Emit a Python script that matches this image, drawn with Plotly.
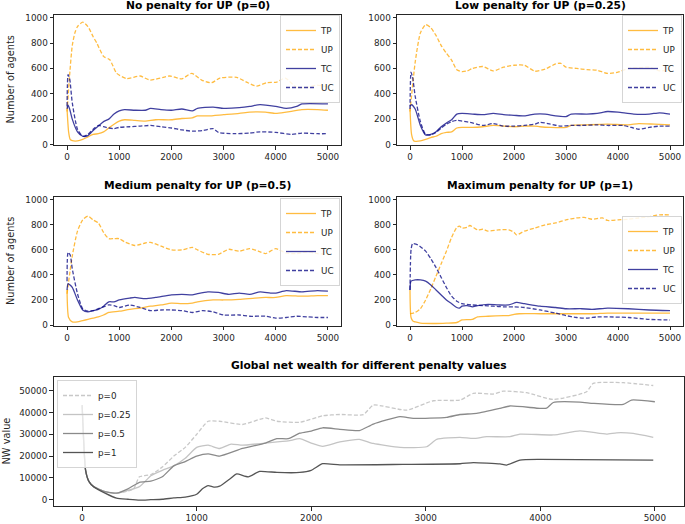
import plotly.graph_objects as go

# ---------------- data ----------------
# p = 0
P0_TP_T = [0, 30, 60, 100, 200, 300, 400, 500, 600, 700, 800, 900, 1000, 1100, 1300, 1500, 1700, 2000, 2200, 2400, 2500, 2700, 3000, 3300, 3500, 3800, 4000, 4200, 4500, 4800, 5000]
P0_TP = [280, 100, 40, 30, 28, 40, 60, 80, 85, 100, 130, 160, 185, 195, 190, 185, 195, 195, 205, 210, 225, 225, 235, 245, 255, 255, 245, 255, 275, 275, 270]
P0_UP_T = [0, 50, 100, 150, 200, 300, 400, 500, 570, 700, 820, 950, 1140, 1400, 1590, 1970, 2200, 2390, 2580, 2770, 2930, 3250, 3440, 3630, 3825, 4020, 4180, 4400, 4590, 4780, 5000]
P0_UP = [260, 550, 780, 880, 930, 965, 930, 850, 800, 695, 668, 562, 520, 540, 508, 540, 518, 561, 508, 487, 524, 529, 492, 460, 487, 492, 524, 450, 450, 468, 455]
P0_TC_T = [0, 20, 50, 100, 200, 300, 400, 500, 600, 700, 800, 900, 1000, 1100, 1300, 1500, 1600, 1800, 2000, 2200, 2400, 2500, 2800, 3000, 3300, 3500, 3700, 4000, 4200, 4400, 4500, 5000]
P0_TC = [280, 310, 280, 200, 100, 65, 70, 110, 145, 180, 200, 240, 265, 275, 270, 270, 285, 275, 270, 280, 265, 285, 295, 285, 290, 300, 315, 300, 285, 300, 320, 320]
P0_UC_T = [0, 20, 50, 100, 200, 300, 400, 500, 600, 700, 800, 900, 1000, 1200, 1400, 1600, 1800, 2000, 2200, 2400, 2600, 2800, 2900, 3200, 3500, 3700, 4000, 4300, 4500, 4800, 5000]
P0_UC = [300, 550, 520, 330, 120, 65, 80, 120, 150, 140, 130, 125, 135, 140, 145, 150, 140, 130, 115, 105, 110, 125, 95, 85, 90, 100, 95, 80, 90, 85, 85]

# p = 0.25
P25_TP_T = [0, 30, 70, 100, 200, 300, 400, 500, 600, 700, 800, 900, 1000, 1200, 1400, 1600, 1800, 2000, 2200, 2400, 2500, 2700, 3000, 3100, 3400, 3800, 4200, 4400, 4700, 5000]
P25_TP = [280, 80, 30, 25, 28, 40, 55, 65, 85, 95, 100, 130, 135, 135, 140, 150, 145, 140, 145, 145, 140, 135, 135, 150, 155, 160, 155, 165, 160, 155]
P25_UP_T = [0, 100, 200, 300, 400, 500, 600, 700, 800, 900, 1000, 1100, 1200, 1400, 1600, 1800, 2000, 2200, 2400, 2600, 2800, 2900, 3000, 3200, 3400, 3600, 3800, 4000, 4200, 4400, 4600, 4800, 5000]
P25_UP = [260, 650, 880, 945, 920, 860, 780, 720, 665, 590, 575, 580, 600, 615, 580, 610, 625, 625, 578, 595, 635, 640, 610, 600, 590, 585, 560, 570, 600, 605, 610, 580, 590]
P25_TC_T = [0, 30, 100, 200, 300, 400, 500, 600, 700, 800, 900, 1000, 1200, 1400, 1600, 1800, 2000, 2200, 2400, 2600, 2800, 3000, 3100, 3400, 3600, 3800, 4000, 4300, 4600, 4800, 5000]
P25_TC = [300, 315, 280, 150, 75, 80, 100, 140, 170, 195, 240, 245, 240, 235, 245, 235, 230, 225, 240, 240, 225, 220, 240, 240, 245, 260, 255, 240, 240, 250, 240]
P25_UC_T = [0, 20, 50, 100, 200, 300, 400, 500, 600, 700, 800, 900, 1000, 1200, 1400, 1600, 1800, 2000, 2200, 2400, 2500, 2700, 2900, 3100, 3300, 3600, 3800, 4100, 4300, 4400, 4600, 4800, 5000]
P25_UC = [280, 570, 530, 380, 180, 80, 75, 95, 130, 160, 180, 190, 185, 170, 150, 165, 145, 145, 150, 160, 175, 160, 145, 150, 150, 155, 150, 150, 130, 120, 135, 145, 145]

# p = 0.5
P50_TP_T = [0, 30, 100, 200, 300, 400, 500, 600, 700, 800, 1000, 1200, 1400, 1600, 1800, 2000, 2200, 2400, 2500, 2800, 3000, 3300, 3600, 3800, 4000, 4200, 4500, 4800, 5000]
P50_TP = [280, 60, 25, 25, 35, 45, 55, 65, 80, 100, 110, 125, 135, 150, 160, 175, 170, 175, 185, 200, 200, 205, 215, 220, 220, 235, 230, 235, 235]
P50_UP_T = [0, 100, 200, 300, 400, 500, 600, 700, 800, 900, 1000, 1100, 1300, 1500, 1600, 1800, 2000, 2200, 2400, 2500, 2700, 2900, 3100, 3300, 3500, 3700, 3800, 4000, 4200, 4400, 4600, 4800, 5000]
P50_UP = [250, 550, 750, 840, 870, 840, 815, 740, 690, 690, 690, 665, 635, 655, 660, 630, 600, 600, 620, 600, 565, 565, 605, 590, 610, 585, 570, 610, 575, 570, 585, 570, 565]
P50_TC_T = [0, 20, 100, 200, 300, 400, 500, 600, 700, 800, 900, 1000, 1200, 1300, 1500, 1700, 2000, 2200, 2400, 2500, 2700, 2900, 3100, 3300, 3500, 3700, 3900, 4000, 4200, 4500, 4800, 5000]
P50_TC = [280, 330, 300, 200, 120, 105, 115, 125, 150, 185, 185, 200, 215, 220, 210, 220, 240, 245, 240, 250, 265, 260, 245, 255, 245, 265, 255, 255, 275, 265, 275, 270]
P50_UC_T = [0, 20, 60, 100, 200, 300, 400, 500, 600, 700, 800, 900, 1000, 1200, 1400, 1600, 1800, 2000, 2200, 2400, 2600, 2800, 3000, 3300, 3500, 3800, 4000, 4200, 4400, 4600, 4800, 5000]
P50_UC = [350, 580, 560, 450, 250, 130, 110, 115, 130, 145, 160, 155, 140, 160, 140, 115, 120, 120, 115, 100, 115, 105, 80, 80, 70, 70, 55, 60, 70, 65, 60, 60]

# p = 1
P1_TP_T = [0, 20, 60, 100, 200, 500, 700, 900, 950, 1000, 1200, 1300, 1500, 1800, 1900, 2000, 2100, 2500, 3000, 3500, 3800, 4200, 5000]
P1_TP = [280, 60, 30, 25, 15, 12, 15, 20, 30, 40, 45, 65, 70, 75, 75, 85, 90, 90, 90, 90, 95, 95, 95]
P1_UP_T = [0, 100, 200, 300, 400, 500, 600, 700, 800, 900, 950, 1000, 1100, 1150, 1300, 1400, 1500, 1700, 1900, 2000, 2050, 2200, 2400, 2600, 2800, 3000, 3200, 3350, 3500, 3700, 3800, 4000, 4200, 4400, 4600, 4800, 5000]
P1_UP = [90, 100, 130, 200, 290, 390, 490, 590, 700, 780, 790, 775, 780, 795, 760, 765, 750, 760, 760, 740, 720, 750, 775, 800, 815, 840, 855, 860, 845, 855, 835, 840, 845, 855, 865, 880, 880]
P1_TC_T = [0, 20, 100, 200, 300, 400, 500, 600, 700, 800, 900, 950, 1000, 1100, 1200, 1300, 1500, 1700, 1900, 2050, 2200, 2500, 2800, 3000, 3300, 3500, 3800, 4200, 4600, 5000]
P1_TC = [280, 350, 360, 360, 350, 320, 280, 240, 200, 170, 140, 135, 150, 155, 145, 155, 165, 160, 160, 180, 170, 150, 140, 130, 130, 125, 135, 130, 120, 115]
P1_UC_T = [0, 20, 50, 150, 300, 400, 500, 600, 700, 800, 900, 1000, 1200, 1400, 1600, 1800, 2000, 2200, 2500, 2800, 3000, 3200, 3400, 3600, 3800, 4200, 4600, 5000]
P1_UC = [280, 600, 650, 640, 590, 530, 460, 380, 300, 230, 190, 170, 160, 155, 150, 145, 145, 140, 120, 95, 75, 60, 55, 65, 65, 60, 45, 40]

# global net wealth
NW0_T = [0, 30, 60, 100, 200, 300, 400, 450, 500, 600, 700, 800, 900, 1000, 1100, 1200, 1400, 1600, 1700, 1900, 2100, 2250, 2455, 2542, 2833, 3066, 3298, 3415, 3590, 3677, 3880, 4113, 4404, 4462, 4724, 4986]
NW0 = [43400, 13600, 8300, 6000, 3700, 3000, 4000, 5000, 10500, 11500, 15000, 20000, 24000, 30000, 36000, 36000, 34500, 37500, 36000, 35500, 38500, 39100, 39000, 43400, 41100, 45400, 45700, 48800, 48500, 49800, 49100, 46000, 49500, 53400, 53700, 52400]
NW25_T = [0, 30, 60, 100, 200, 300, 500, 600, 700, 800, 900, 1000, 1100, 1200, 1300, 1400, 1600, 1800, 1900, 2000, 2100, 2250, 2420, 2542, 2775, 3008, 3095, 3298, 3415, 3532, 3735, 3822, 4113, 4346, 4578, 4666, 4811, 4986]
NW25 = [43400, 13600, 8300, 6000, 3700, 3000, 6000, 11000, 13500, 15500, 19000, 24000, 25000, 23500, 25500, 25000, 26000, 27000, 28000, 26000, 24500, 26500, 27700, 25800, 24000, 24300, 27700, 28600, 28100, 28900, 28900, 30100, 29700, 31600, 30100, 30700, 30400, 28600]
NW50_T = [0, 30, 60, 100, 200, 300, 400, 500, 600, 700, 800, 900, 1000, 1100, 1200, 1400, 1600, 1700, 1800, 1900, 2000, 2100, 2250, 2420, 2542, 2775, 2891, 3182, 3298, 3444, 3648, 3735, 3997, 4055, 4113, 4346, 4462, 4724, 4796, 5000]
NW50 = [43400, 13600, 8300, 6000, 3700, 3000, 5000, 8000, 8500, 10500, 15500, 17500, 20000, 21000, 20000, 23500, 26000, 28000, 28000, 30500, 31500, 33000, 32300, 31700, 34700, 38100, 37300, 37800, 39100, 39600, 41900, 43000, 41900, 42000, 44600, 44800, 44200, 43700, 45700, 44950]
NW1_T = [0, 30, 60, 100, 200, 300, 400, 500, 600, 700, 800, 900, 1000, 1050, 1100, 1150, 1200, 1300, 1350, 1450, 1550, 1700, 1900, 2000, 2100, 2250, 2800, 3300, 3415, 3648, 3706, 3822, 4000, 4986]
NW1 = [43400, 13600, 8300, 6000, 3000, 700, 200, -200, 0, 200, 800, 1200, 2500, 5000, 6500, 5800, 6200, 10000, 11800, 10500, 13000, 12500, 12500, 13500, 16500, 16000, 16200, 16500, 17000, 16400, 15900, 18200, 18500, 18200]

TICKS_T = [0, 1000, 2000, 3000, 4000, 5000]
TICKS_N = [0, 200, 400, 600, 800, 1000]
TICKS_NW = [0, 10000, 20000, 30000, 40000, 50000]

TITLES = ["No penalty for UP (p=0)", "Low penalty for UP (p=0.25)",
          "Medium penalty for UP (p=0.5)", "Maximum penalty for UP (p=1)",
          "Global net wealth for different penalty values"]

# ---------------- styling ----------------
W, H = 685, 524
ORANGE = "rgba(255,165,0,0.75)"
NAVY = "rgba(0,0,128,0.75)"
DASH = "4px,2px"
FONT = "DejaVu Sans"
AX_COL = "#262626"


def px_x(a, b):
    return [a / W, b / W]


def px_y(top, bottom):
    return [1 - bottom / H, 1 - top / H]


fig = go.Figure()

panels = [
    (P0_TP_T, P0_TP, P0_UP_T, P0_UP, P0_TC_T, P0_TC, P0_UC_T, P0_UC),
    (P25_TP_T, P25_TP, P25_UP_T, P25_UP, P25_TC_T, P25_TC, P25_UC_T, P25_UC),
    (P50_TP_T, P50_TP, P50_UP_T, P50_UP, P50_TC_T, P50_TC, P50_UC_T, P50_UC),
    (P1_TP_T, P1_TP, P1_UP_T, P1_UP, P1_TC_T, P1_TC, P1_UC_T, P1_UC),
]
names = ["TP", "UP", "TC", "UC"]
cols = [ORANGE, ORANGE, NAVY, NAVY]
dashes = ["solid", DASH, "solid", DASH]

for i, pdata in enumerate(panels):
    sfx = "" if i == 0 else str(i + 1)
    leg = "legend" if i == 0 else "legend" + str(i + 1)
    for k in range(4):
        fig.add_trace(go.Scatter(
            x=pdata[2 * k], y=pdata[2 * k + 1], mode="lines", name=names[k],
            line=dict(color=cols[k], width=1.3, dash=dashes[k], shape="spline", smoothing=0.6),
            xaxis="x" + sfx, yaxis="y" + sfx, legend=leg))

nw_names = ["p=0", "p=0.25", "p=0.5", "p=1"]
nw_cols = ["#c8c8c8", "#c4c4c4", "#8a8a8a", "#555555"]
nw_dash = [DASH, "solid", "solid", "solid"]
nw_data = [(NW0_T, NW0), (NW25_T, NW25), (NW50_T, NW50), (NW1_T, NW1)]
for k in range(4):
    fig.add_trace(go.Scatter(
        x=nw_data[k][0], y=nw_data[k][1], mode="lines", name=nw_names[k],
        line=dict(color=nw_cols[k], width=1.3, dash=nw_dash[k], shape="spline", smoothing=0.5),
        xaxis="x5", yaxis="y5", legend="legend5"))

axis_common = dict(showline=True, mirror=True, linecolor=AX_COL, linewidth=1,
                   ticks="outside", ticklen=3.5, tickwidth=1, tickcolor=AX_COL,
                   showgrid=False, zeroline=False, automargin=False,
                   tickfont=dict(family=FONT, size=8.8, color="#262626"))

domains = [
    (px_x(54, 341), px_y(14.5, 145)),
    (px_x(397, 683), px_y(14.5, 145)),
    (px_x(54, 341), px_y(196.7, 325.5)),
    (px_x(397, 683), px_y(196.7, 325.5)),
]

layout = dict(width=W, height=H, margin=dict(l=0, r=0, t=0, b=0, pad=0, autoexpand=False),
              paper_bgcolor="white", plot_bgcolor="white", showlegend=True)

for i, (dx, dy) in enumerate(domains):
    sfx = "" if i == 0 else str(i + 1)
    layout["xaxis" + sfx] = dict(axis_common, domain=dx, range=[-250, 5250], tickvals=TICKS_T,
                                 anchor="y" + sfx)
    layout["yaxis" + sfx] = dict(axis_common, domain=dy, range=[-4, 1025], tickvals=TICKS_N,
                                 anchor="x" + sfx)

layout["xaxis5"] = dict(axis_common, domain=px_x(53.5, 683.5), range=[-250, 5250],
                        tickvals=TICKS_T, anchor="y5")
layout["yaxis5"] = dict(axis_common, domain=px_y(377, 506), range=[-2890, 56300],
                        tickvals=TICKS_NW, tickformat="d", anchor="x5")

leg_common = dict(font=dict(family=FONT, size=8.8, color="#262626"),
                  bgcolor="rgba(255,255,255,0.85)", bordercolor="#d5d5d5", borderwidth=1,
                  itemwidth=30, tracegroupgap=0)
layout["legend"] = dict(leg_common, x=340 / W, y=1 - 15 / H, xanchor="right", yanchor="top")
layout["legend2"] = dict(leg_common, x=682 / W, y=1 - 15 / H, xanchor="right", yanchor="top")
layout["legend3"] = dict(leg_common, x=340 / W, y=1 - 198 / H, xanchor="right", yanchor="top")
layout["legend4"] = dict(leg_common, x=682 / W, y=1 - 260 / H, xanchor="right", yanchor="middle")
layout["legend5"] = dict(leg_common, x=57 / W, y=1 - 380 / H, xanchor="left", yanchor="top")

annotations = []
title_pos = [(197.5, 6), (540, 6), (197.5, 185), (540, 185), (368.5, 365)]
for t, (cx, cy) in zip(TITLES, title_pos):
    annotations.append(dict(text="<b>" + t + "</b>", x=cx / W, y=1 - cy / H, xref="paper", yref="paper",
                            xanchor="center", yanchor="middle", showarrow=False,
                            font=dict(family=FONT, size=10.7, color="black")))
for cy in [79.5, 261]:
    annotations.append(dict(text="Number of agents", x=10 / W, y=1 - cy / H, xref="paper", yref="paper",
                            xanchor="center", yanchor="middle", textangle=-90, showarrow=False,
                            font=dict(family=FONT, size=9.8, color="#262626")))
annotations.append(dict(text="NW value", x=5.5 / W, y=1 - 441 / H, xref="paper", yref="paper",
                        xanchor="center", yanchor="middle", textangle=-90, showarrow=False,
                        font=dict(family=FONT, size=9.8, color="#262626")))
layout["annotations"] = annotations

fig.update_layout(**layout)
fig.write_html("out.html", config={"displayModeBar": False},
               post_script="document.body.style.margin='0px';")
